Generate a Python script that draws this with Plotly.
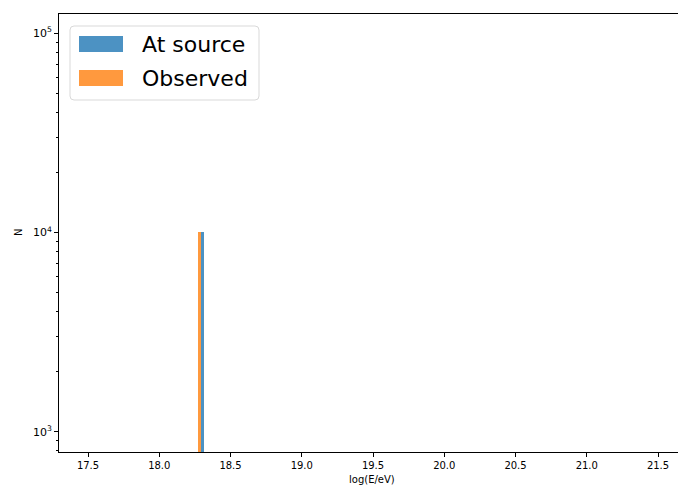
import plotly.graph_objects as go
import numpy as np

# Data (histogram bins)
bin_width = 0.02
source_left_edges = [18.293]
source_counts = [10000]
observed_left_edges = [18.273]
observed_counts = [10000]

series_names = ["At source", "Observed"]
major_tickvals = [1e3, 1e4, 1e5]
major_ticktext = ["10<sup>3</sup>", "10<sup>4</sup>", "10<sup>5</sup>"]
x_tickvals = [17.5, 18.0, 18.5, 19.0, 19.5, 20.0, 20.5, 21.0, 21.5]
minor_tickvals = [m * 10**e for e in (2, 3, 4) for m in range(2, 10)]

blue = "rgba(31,119,180,0.8)"
orange = "rgba(255,127,14,0.8)"

W, H = 678, 486
L, T, B, R = 59, 14, 34, 0
pw, ph = W - L - R, H - T - B

fig = go.Figure()
fig.add_trace(go.Bar(
    x=[e + bin_width / 2 for e in source_left_edges], y=source_counts,
    width=[bin_width] * len(source_counts), marker=dict(color=blue, line=dict(width=0)),
    name=series_names[0], showlegend=False))
fig.add_trace(go.Bar(
    x=[e + bin_width / 2 for e in observed_left_edges], y=observed_counts,
    width=[bin_width] * len(observed_counts), marker=dict(color=orange, line=dict(width=0)),
    name=series_names[1], showlegend=False))

font = "DejaVu Sans, Liberation Sans, sans-serif"

fig.update_layout(
    width=W, height=H, margin=dict(l=L, r=R, t=T, b=B),
    paper_bgcolor="white", plot_bgcolor="white",
    barmode="overlay", bargap=0,
    font=dict(family=font, size=10, color="black"),
    xaxis=dict(range=[17.2965, 17.2965 + pw / 142.5], tickvals=x_tickvals,
               ticktext=[f"{v:.1f}" for v in x_tickvals],
               showgrid=False, zeroline=False, showline=True, linecolor="black",
               linewidth=1, mirror=True, ticks="outside", ticklen=4, tickcolor="black",
               tickfont=dict(size=10)),
    yaxis=dict(type="log", range=[2.898, 5.0965], tickvals=major_tickvals,
               ticktext=major_ticktext, showgrid=False, zeroline=False,
               showline=True, linecolor="black", linewidth=1, mirror=False,
               ticks="outside", ticklen=4, tickcolor="black", tickfont=dict(size=11),
               minor=dict(tickmode="array", tickvals=minor_tickvals, ticks="outside",
                          ticklen=2, tickcolor="black", showgrid=False)),
)

# axis titles
fig.add_annotation(text="log(E/eV)", xref="paper", yref="paper",
                   x=(372 - L) / pw, y=-(479 - (T + ph)) / ph, xanchor="center",
                   yanchor="middle", showarrow=False, font=dict(size=10))
fig.add_annotation(text="N", xref="paper", yref="paper",
                   x=(18 - L) / pw, y=(T + ph - 233) / ph, xanchor="center",
                   yanchor="middle", showarrow=False, textangle=-90, font=dict(size=10))

# legend (drawn in pixels relative to top-left of plot area)
def px(xp):
    return xp - L
def py(yp):
    return T - yp

x0, x1, y0, y1, r = px(70), px(259), py(26), py(100), 4
path = (f"M {x0+r},{y0} L {x1-r},{y0} Q {x1},{y0} {x1},{y0-r} "
        f"L {x1},{y1+r} Q {x1},{y1} {x1-r},{y1} L {x0+r},{y1} "
        f"Q {x0},{y1} {x0},{y1+r} L {x0},{y0-r} Q {x0},{y0} {x0+r},{y0} Z")
fig.add_shape(type="path", path=path, xref="paper", yref="paper",
              xsizemode="pixel", ysizemode="pixel", xanchor=0, yanchor=1,
              line=dict(color="#d9d9d9", width=1), fillcolor="rgba(255,255,255,0.8)")

legend_rows = [(series_names[0], blue, 44), (series_names[1], orange, 78)]
for name, col, yc in legend_rows:
    fig.add_shape(type="rect", xref="paper", yref="paper",
                  xsizemode="pixel", ysizemode="pixel", xanchor=0, yanchor=1,
                  x0=px(79), x1=px(123), y0=py(yc - 8), y1=py(yc + 8),
                  line=dict(width=0), fillcolor=col)
    fig.add_annotation(text=name, xref="paper", yref="paper",
                       x=(140 - L) / pw, y=(T + ph - yc) / ph, xanchor="left",
                       yanchor="middle", showarrow=False, font=dict(size=22))

fig.write_html("out.html")
